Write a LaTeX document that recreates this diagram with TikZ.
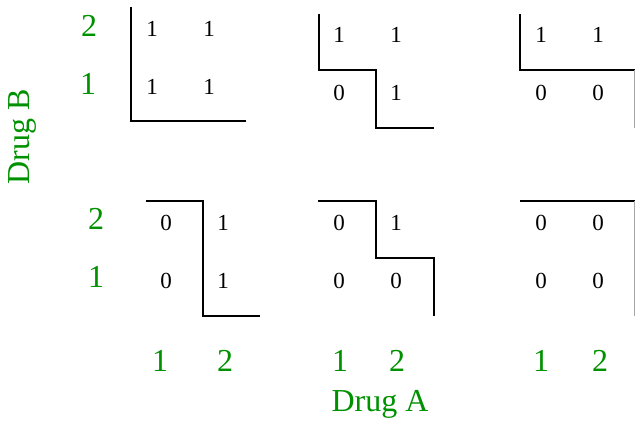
\documentclass[tikz,border=0pt]{standalone}
\usepackage{fontspec}
\setmainfont{Liberation Serif}
\definecolor{dgreen}{RGB}{0,145,0}
\tikzset{
  cell/.style={font=\fontsize{23}{27}\selectfont, inner sep=0pt, anchor=center},
  axlab/.style={font=\fontsize{32}{36}\selectfont, text=dgreen, inner sep=0pt, anchor=center},
  bound/.style={draw=black, line width=1.3pt},
  edge/.style={draw=black!35, line width=1pt}
}
\begin{document}
\begin{tikzpicture}[x=1pt,y=-1pt]
\useasboundingbox (0,0) rectangle (635,422);
% ---------- top row ----------
% panel 1
\draw[bound] (131,7) -- (131,121) -- (246,121);
\node[cell] (a11) at (152,29) {1};
\node[cell] (a12) at (209,29) {1};
\node[cell] (a21) at (152,87) {1};
\node[cell] (a22) at (209,87) {1};
% panel 2
\draw[bound] (319,14) -- (319,70) -- (376,70) -- (376,128) -- (434,128);
\node[cell] (b11) at (339,35) {1};
\node[cell] (b12) at (396,35) {1};
\node[cell] (b21) at (339,93) {0};
\node[cell] (b22) at (396,93) {1};
% panel 3
\draw[bound] (520,14) -- (520,70) -- (635,70);
\draw[edge] (634.5,70) -- (634.5,128);
\node[cell] (c11) at (541,35) {1};
\node[cell] (c12) at (598,35) {1};
\node[cell] (c21) at (541,93) {0};
\node[cell] (c22) at (598,93) {0};
% ---------- bottom row ----------
% panel 4
\draw[bound] (146,201) -- (203,201) -- (203,316) -- (260,316);
\node[cell] (d11) at (166,223) {0};
\node[cell] (d12) at (223,223) {1};
\node[cell] (d21) at (166,281) {0};
\node[cell] (d22) at (223,281) {1};
% panel 5
\draw[bound] (318,201) -- (376,201) -- (376,258) -- (434,258) -- (434,316);
\node[cell] (e11) at (339,223) {0};
\node[cell] (e12) at (396,223) {1};
\node[cell] (e21) at (339,281) {0};
\node[cell] (e22) at (396,281) {0};
% panel 6
\draw[bound] (520,201) -- (635,201);
\draw[edge] (634.5,201) -- (634.5,316);
\node[cell] (f11) at (541,223) {0};
\node[cell] (f12) at (598,223) {0};
\node[cell] (f21) at (541,281) {0};
\node[cell] (f22) at (598,281) {0};
% ---------- axis labels ----------
\node[axlab] (yb2t) at (89,26) {2};
\node[axlab] (yb1t) at (88,84) {1};
\node[axlab] (yb2b) at (96,219) {2};
\node[axlab] (yb1b) at (96,277) {1};
\node[axlab] (xa1l) at (160,361) {1};
\node[axlab] (xa2l) at (225,361) {2};
\node[axlab] (xa1m) at (340,361) {1};
\node[axlab] (xa2m) at (397,361) {2};
\node[axlab] (xa1r) at (541,361) {1};
\node[axlab] (xa2r) at (600,361) {2};
\node[axlab, anchor=base] (drugA) at (380,411) {Drug A};
\node[axlab, anchor=base, rotate=90] (drugB) at (29,137) {Drug B};
\end{tikzpicture}
\end{document}
